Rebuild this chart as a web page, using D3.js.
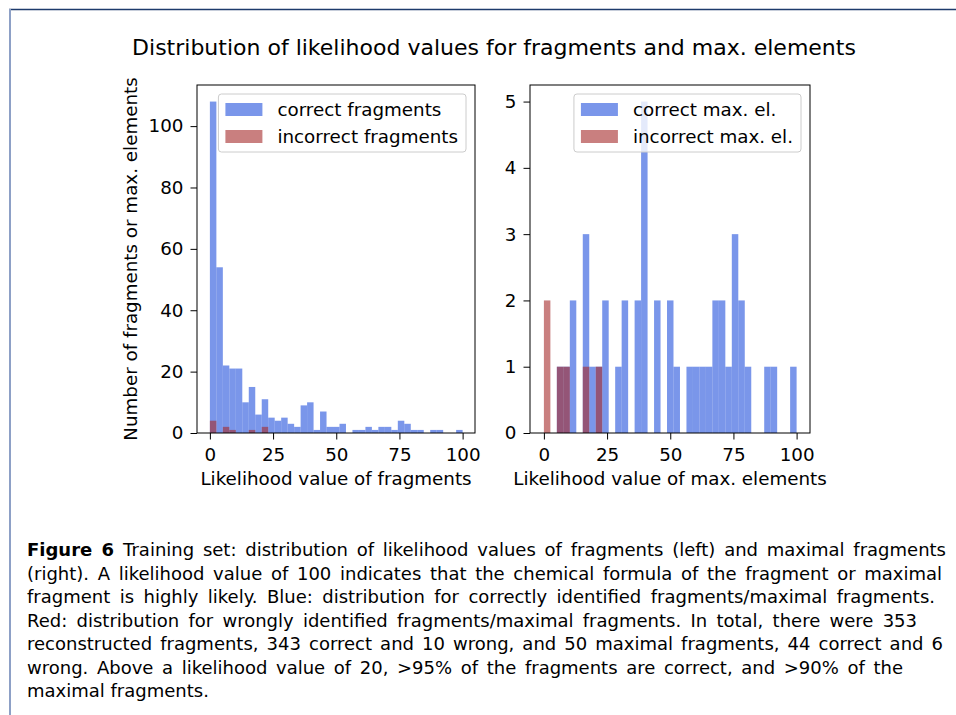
<!DOCTYPE html>
<html>
<head>
<meta charset="utf-8">
<script src="https://cdn.jsdelivr.net/npm/d3@7"></script>
<style>
  body { margin: 0; background: #fff; }
  svg { display: block; }
</style>
</head>
<body>
<svg width="956" height="715"></svg>
<script>
// histogram bins: 39 equal bins over [0, 100]
const binLo = 0, binHi = 100, binCount = 39;

// counts per bin
const fragCorrect = [108, 54, 22, 21, 21, 10, 15, 6, 11, 5, 4, 5, 3, 2, 9, 10, 1, 7, 2, 2,
  3, 0, 1, 1, 2, 1, 2, 2, 1, 4, 3, 1, 1, 0, 1, 1, 0, 0, 1];
const fragWrong = [4, 0, 2, 1, 0, 0, 1, 0, 2, 0, 0, 0, 0, 0, 0, 0, 0, 0, 0, 0,
  0, 0, 0, 0, 0, 0, 0, 0, 0, 0, 0, 0, 0, 0, 0, 0, 0, 0, 0];
const maxCorrect = [0, 0, 1, 1, 2, 0, 3, 1, 1, 2, 0, 1, 2, 0, 2, 5, 0, 2, 0, 2,
  1, 0, 1, 1, 1, 1, 2, 2, 1, 3, 2, 1, 0, 0, 1, 1, 0, 0, 1];
const maxWrong = [2, 0, 1, 1, 0, 0, 1, 0, 1, 0, 0, 0, 0, 0, 0, 0, 0, 0, 0, 0,
  0, 0, 0, 0, 0, 0, 0, 0, 0, 0, 0, 0, 0, 0, 0, 0, 0, 0, 0];

const xTicks = [0, 25, 50, 75, 100];
const fragYTicks = [0, 20, 40, 60, 80, 100];
const maxYTicks = [0, 1, 2, 3, 4, 5];

const fragLegend = ["correct fragments", "incorrect fragments"];
const maxLegend = ["correct max. el.", "incorrect max. el."];

const title = "Distribution of likelihood values for fragments and max. elements";
const yTitle = "Number of fragments or max. elements";
const fragXTitle = "Likelihood value of fragments";
const maxXTitle = "Likelihood value of max. elements";

const captionLines = [
  "Training set: distribution of likelihood values of fragments (left) and maximal fragments",
  "(right). A likelihood value of 100 indicates that the chemical formula of the fragment or maximal",
  "fragment is highly likely. Blue: distribution for correctly identified fragments/maximal fragments.",
  "Red: distribution for wrongly identified fragments/maximal fragments. In total, there were 353",
  "reconstructed fragments, 343 correct and 10 wrong, and 50 maximal fragments, 44 correct and 6",
  "wrong. Above a likelihood value of 20, >95% of the fragments are correct, and >90% of the",
  "maximal fragments."
];

const font = "'DejaVu Sans', sans-serif";
const fs = 18.3;
const blue = "rgba(65,105,225,0.7)";
const red = "rgba(165,42,42,0.6)";

const svg = d3.select("svg");

// page frame lines
svg.append("line").attr("x1", 9).attr("x2", 956).attr("y1", 9.5).attr("y2", 9.5)
  .attr("stroke", "#1d3b6c").attr("stroke-width", 1.5);
svg.append("line").attr("x1", 10).attr("x2", 10).attr("y1", 9).attr("y2", 715)
  .attr("stroke", "#8da0c6").attr("stroke-width", 2);

svg.append("text")
  .attr("x", 494).attr("y", 55)
  .attr("text-anchor", "middle")
  .style("font-family", font).style("font-size", "22px")
  .text(title);

const plotTop = 85, plotBottom = 433;
const edges = d3.range(binCount + 1).map(i => binLo + (binHi - binLo) * i / binCount);

function panel(opt) {
  const x = d3.scaleLinear().domain(opt.xDomain).range([opt.left, opt.right]);
  const y = d3.scaleLinear().domain(opt.yDomain).range([plotBottom, plotTop]);
  const g = svg.append("g");

  [[opt.correct, blue], [opt.wrong, red]].forEach(([counts, col]) => {
    g.append("g").selectAll("rect")
      .data(counts.map((c, i) => ({ c, x0: edges[i], x1: edges[i + 1] })).filter(d => d.c > 0))
      .join("rect")
      .attr("x", d => x(d.x0))
      .attr("width", d => x(d.x1) - x(d.x0))
      .attr("y", d => y(d.c))
      .attr("height", d => y(0) - y(d.c))
      .attr("fill", col);
  });

  const xa = g.append("g").attr("transform", `translate(0,${plotBottom})`)
    .call(d3.axisBottom(x).tickValues(xTicks).tickFormat(d3.format("d"))
      .tickSize(6.5).tickPadding(9).tickSizeOuter(0));
  const ya = g.append("g").attr("transform", `translate(${opt.left},0)`)
    .call(d3.axisLeft(y).tickValues(opt.yTicks).tickFormat(d3.format("d"))
      .tickSize(6.5).tickPadding(7).tickSizeOuter(0));
  [xa, ya].forEach(a => {
    a.select(".domain").remove();
    a.selectAll("text").style("font-family", font).style("font-size", fs + "px").attr("fill", "#000");
    a.selectAll("line").attr("stroke", "#000");
  });

  g.append("rect")
    .attr("x", opt.left).attr("y", plotTop)
    .attr("width", opt.right - opt.left).attr("height", plotBottom - plotTop)
    .attr("fill", "none").attr("stroke", "#000").attr("stroke-width", 1);

  g.append("text")
    .attr("x", (opt.left + opt.right) / 2).attr("y", 485)
    .attr("text-anchor", "middle")
    .style("font-family", font).style("font-size", fs + "px")
    .text(opt.xTitle);

  // legend
  const lg = g.append("g");
  const box = lg.append("rect").attr("rx", 3)
    .attr("fill", "rgba(255,255,255,0.8)").attr("stroke", "#cccccc");
  let wMax = 0;
  opt.legend.forEach((name, i) => {
    const t = lg.append("text")
      .attr("x", 59).attr("y", 22 + i * 27)
      .style("font-family", font).style("font-size", fs + "px")
      .text(name);
    wMax = Math.max(wMax, t.node().getComputedTextLength());
    lg.append("rect").attr("x", 7).attr("y", 9 + i * 27)
      .attr("width", 37).attr("height", 13)
      .attr("fill", i === 0 ? blue : red);
  });
  const bw = 59 + wMax + 8;
  box.attr("width", bw).attr("height", 58);
  lg.attr("transform", `translate(${opt.right - 9 - bw},${plotTop + 9})`);
}

panel({
  left: 197, right: 475, xDomain: [-5.1, 104.9], yDomain: [0, 113.4],
  yTicks: fragYTicks, correct: fragCorrect, wrong: fragWrong,
  legend: fragLegend, xTitle: fragXTitle
});
panel({
  left: 530, right: 810, xDomain: [-5.5, 105.3], yDomain: [0, 5.25],
  yTicks: maxYTicks, correct: maxCorrect, wrong: maxWrong,
  legend: maxLegend, xTitle: maxXTitle
});

svg.append("text")
  .attr("transform", `translate(137,${(plotTop + plotBottom) / 2}) rotate(-90)`)
  .attr("text-anchor", "middle")
  .style("font-family", font).style("font-size", fs + "px")
  .text(yTitle);

// caption, justified to the measured line ends
const lineEnds = [946, 942, 935, 917, 943, 903, null];
const cap = svg.append("g").style("font-family", font).style("font-size", "18px").attr("fill", "#000");
captionLines.forEach((line, i) => {
  const t = cap.append("text").attr("x", 27).attr("y", 556 + i * 23.5);
  if (i === 0) {
    t.append("tspan").style("font-weight", "bold").text("Figure 6");
    t.append("tspan").text("\u2002" + line);
  } else {
    t.text(line);
  }
  if (lineEnds[i]) {
    const w = t.node().getComputedTextLength();
    const spaces = (line.match(/ /g) || []).length + (i === 0 ? 1 : 0);
    t.attr("word-spacing", (lineEnds[i] - 27 - w) / spaces);
  }
});
</script>
</body>
</html>
